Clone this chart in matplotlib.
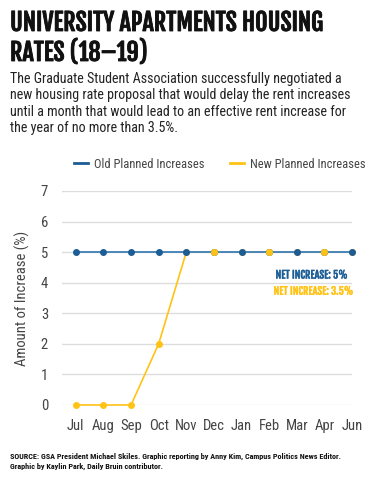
import matplotlib.pyplot as plt
import matplotlib.patheffects as pe
from matplotlib import font_manager
from matplotlib.lines import Line2D

months = ['Jul', 'Aug', 'Sep', 'Oct', 'Nov', 'Dec', 'Jan', 'Feb', 'Mar', 'Apr', 'Jun']
old_increase = [5, 5, 5, 5, 5, 5, 5, 5, 5, 5, 5]
new_increase = [0, 0, 0, 2, 5, 5, 5, 5, 5, 5, 5]
new_on_top = ['Dec', 'Feb', 'Apr']  # months where the yellow dot sits over the blue one
yticks = [0, 1, 2, 3, 4, 5, 6, 7]

BLUE = '#1c5d96'
BLUE_LINE = '#4a86b8'
YELLOW = '#ffc316'
GRAY = '#444444'

names = {f.name for f in font_manager.fontManager.ttflist}


def pick(*cands):
    for c in cands:
        if c in names:
            return c
    return 'DejaVu Sans'


title_font = pick('Fjalla One', 'Francois One', 'Archivo Narrow', 'Roboto Condensed')
body_font = pick('Roboto Condensed', 'Archivo Narrow', 'Liberation Sans Narrow')
chart_font = body_font

fig = plt.figure(figsize=(3.8, 4.8), dpi=100)
renderer = fig.canvas.get_renderer()


def fit(t, width_px):
    # shrink/grow the font so the text spans the width seen in the reference
    w = t.get_window_extent(renderer).width
    t.set_fontsize(t.get_fontsize() * width_px / w)


def heavy(color, lw):
    return [pe.withStroke(linewidth=lw, foreground=color)]


# header
t1 = fig.text(10/380, 1 - 23/480, 'UNIVERSITY APARTMENTS HOUSING', family=title_font, weight='bold',
              fontsize=19, va='center', ha='left', color='#111111')
fit(t1, 314)
t1.set_path_effects(heavy('#111111', 0.6))
fig.text(10/380, 1 - 53/480, 'RATES (18\u201319)', family=title_font, weight='bold',
         fontsize=t1.get_fontsize(), va='center', ha='left', color='#111111',
         path_effects=heavy('#111111', 0.6))
body = ('The Graduate Student Association successfully negotiated a\n'
        'new housing rate proposal that would delay the rent increases\n'
        'until a month that would lead to an effective rent increase for\n'
        'the year of no more than 3.5%.')
fig.text(10/380, 1 - 72/480, body, family=body_font, fontsize=10.1, va='top', ha='left',
         color='#222222', linespacing=1.22)

ax = fig.add_axes([62/380, 1 - 405/480, (352 - 62)/380, (405 - 191)/480])
x = list(range(len(months)))

ax.plot(x, new_increase, color=YELLOW, lw=1.2, marker='o', ms=4, zorder=3, clip_on=False)
ax.plot(x, old_increase, color=BLUE_LINE, lw=1.4, zorder=4, clip_on=False)
ax.plot(x, old_increase, ls='none', marker='o', ms=4, color=BLUE, zorder=5, clip_on=False)
top_idx = [months.index(m) for m in new_on_top]
ax.plot(top_idx, [new_increase[i] for i in top_idx], ls='none', marker='o', ms=4,
        color=YELLOW, zorder=6, clip_on=False)

ax.set_xlim(-0.5, 10)
ax.set_ylim(0, 7)
ax.set_yticks(yticks)
ax.set_xticks(x)
ax.set_xticklabels(months, family=chart_font)
ax.set_yticklabels([str(v) for v in yticks], family=chart_font)
ax.tick_params(length=0, labelsize=10.5, labelcolor=GRAY)
ax.tick_params(axis='x', pad=10)
ax.tick_params(axis='y', pad=10)
ax.grid(axis='y', color='#dddddd', lw=1)
ax.set_axisbelow(True)
for s in ax.spines.values():
    s.set_visible(False)
ax.set_ylabel('Amount of Increase (%)', fontsize=10.5, color=GRAY, labelpad=8, family=chart_font)

handles = [Line2D([], [], color=BLUE, lw=2), Line2D([], [], color=YELLOW, lw=2)]
fig.legend(handles, ['Old Planned Increases', 'New Planned Increases'], loc='center',
           bbox_to_anchor=(220/380, 1 - 164/480), ncol=2, frameon=False,
           prop={'family': chart_font, 'size': 9},
           handlelength=1.1, handletextpad=0.5, columnspacing=2.0, labelcolor=GRAY)

a1 = ax.text(9.85, 4.25, 'NET INCREASE: 5%', color=BLUE, family=title_font, weight='bold',
             fontsize=8, ha='right', va='center', path_effects=heavy(BLUE, 0.25))
fit(a1, 72)
ax.text(10.05, 3.72, 'NET INCREASE: 3.5%', color=YELLOW, family=title_font, weight='bold',
        fontsize=a1.get_fontsize(), ha='right', va='center', path_effects=heavy(YELLOW, 0.25))

fig.text(10/380, 1 - 461/480, 'SOURCE: GSA President Michael Skiles. Graphic reporting by Anny Kim, Campus Politics News Editor.\n'
         'Graphic by Kaylin Park, Daily Bruin contributor.', family=body_font, weight='bold',
         fontsize=5.9, va='center', ha='left', color='#111111', linespacing=1.45)

fig.savefig('out.png', dpi=100)
